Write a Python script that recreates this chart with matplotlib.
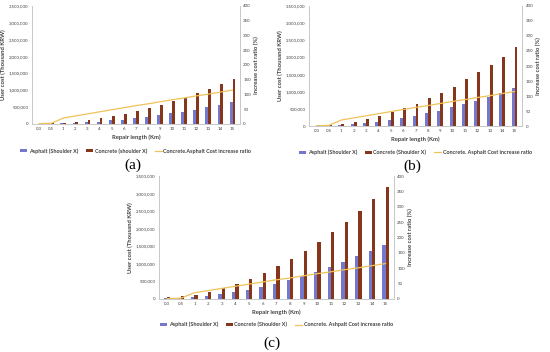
import matplotlib
matplotlib.use("Agg")

import matplotlib.pyplot as plt
from matplotlib.ticker import FuncFormatter, MultipleLocator
import numpy as np

plt.rcParams['font.family'] = ['Lato', 'DejaVu Sans']

lengths = ['0.3', '0.5', '1', '2', '3', '4', '5', '6', '7', '8', '9', '10',
           '11', '12', '13', '14', '15']

# (a)
asphalt_a = [5000, 8000, 20000, 29000, 49000, 69000, 108000, 127000, 167000, 216000,
             265000, 314000, 363000, 421000, 490000, 569000, 647000]
concrete_a = [15000, 20000, 39000, 69000, 118000, 167000, 235000, 304000, 373000, 470000,
              559000, 676000, 775000, 912000, 1039000, 1186000, 1333000]
# (b)
asphalt_b = [8000, 10000, 30000, 50000, 80000, 120000, 180000, 230000, 300000, 370000,
             450000, 540000, 640000, 740000, 850000, 960000, 1100000]
concrete_b = [30000, 40000, 70000, 130000, 210000, 300000, 400000, 520000, 650000, 810000,
              970000, 1150000, 1360000, 1570000, 1790000, 2020000, 2290000]
# (c)
asphalt_c = [29000, 38000, 48000, 77000, 125000, 183000, 260000, 346000, 423000, 529000,
             644000, 769000, 904000, 1048000, 1212000, 1375000, 1548000]
concrete_c = [58000, 67000, 106000, 183000, 298000, 423000, 558000, 730000, 923000, 1135000,
              1365000, 1615000, 1894000, 2190000, 2510000, 2846000, 3200000]

ratio = [1, 2, 20, 27, 34, 41, 48, 55, 62, 68, 75, 82, 88, 95, 101, 108, 115]

legend_a = ['Asphalt (Shoulder X)', 'Concrete (shoulder X)', 'Concrete.Asphalt Cost increase ratio']
legend_b = ['Asphalt (Shoulder X)', 'Concrete (Shoulder X)', 'Concrete. Asphalt Cost increase ratio']
legend_c = ['Asphalt (Shoulder X)', 'Concrete (Shoulder X)', 'Concrete. Ashpalt Cost increase ratio']

ASPH = '#7478cc'
CONC = '#86361a'
LINE = '#f0c35a'

fig = plt.figure(figsize=(5.5, 3.52), dpi=100)


def panel(rect, asphalt, concrete, names, tag, tag_xy, leg_y):
    ax = fig.add_axes(rect)
    x = np.arange(len(lengths))
    w = 0.24
    b1 = ax.bar(x - w / 2, asphalt, w, color=ASPH, label=names[0])
    b2 = ax.bar(x + w / 2, concrete, w, color=CONC, label=names[1])
    ax.set_ylim(0, 3500000)
    ax.set_xlim(-0.6, len(lengths) - 0.4)
    ax.yaxis.set_major_locator(MultipleLocator(500000))
    ax.yaxis.set_major_formatter(FuncFormatter(lambda v, p: f"{int(v):,}"))
    ax.set_xticks(x)
    ax.set_xticklabels(lengths)
    ax.tick_params(labelsize=3.2, length=0, pad=2.5, colors='#404040')
    ax.set_xlabel('Repair length (Km)', fontsize=4.2, fontweight='bold', color='#404040', labelpad=2)
    ax.set_ylabel('User cost (Thousand KRW)', fontsize=4.2, fontweight='bold', color='#404040', labelpad=2)

    ax2 = ax.twinx()
    l1, = ax2.plot(x, ratio, color=LINE, lw=0.9, label=names[2])
    ax2.set_ylim(0, 400)
    ax2.yaxis.set_major_locator(MultipleLocator(50))
    ax2.tick_params(labelsize=3.2, length=0, pad=2.5, colors='#404040')
    ax2.set_ylabel('Increase cost ratio (%)', fontsize=4.2, fontweight='bold', color='#404040', labelpad=2)

    for a in (ax, ax2):
        a.spines['top'].set_visible(False)
        for s in ('left', 'right', 'bottom'):
            a.spines[s].set_color('#c8c8c8')
            a.spines[s].set_linewidth(0.6)

    ax.legend([b1, b2, l1], names, loc='center',
              bbox_to_anchor=(0.5, leg_y), ncol=3, frameon=False,
              prop={'size': 3.9, 'weight': 'bold'}, labelcolor='#404040',
              handlelength=1.3, handleheight=0.45,
              columnspacing=1.4, handletextpad=0.3)
    fig.text(tag_xy[0], tag_xy[1], tag, fontsize=11, family='Liberation Serif',
             ha='center', va='center')


panel([0.058, 0.648, 0.378, 0.335], asphalt_a, concrete_a, legend_a, '(a)', (0.242, 0.531), -0.23)
panel([0.562, 0.642, 0.387, 0.341], asphalt_b, concrete_b, legend_b, '(b)', (0.749, 0.528), -0.22)
panel([0.289, 0.151, 0.427, 0.349], asphalt_c, concrete_c, legend_c, '(c)', (0.495, 0.026), -0.21)

fig.savefig('out.png', dpi=100)
